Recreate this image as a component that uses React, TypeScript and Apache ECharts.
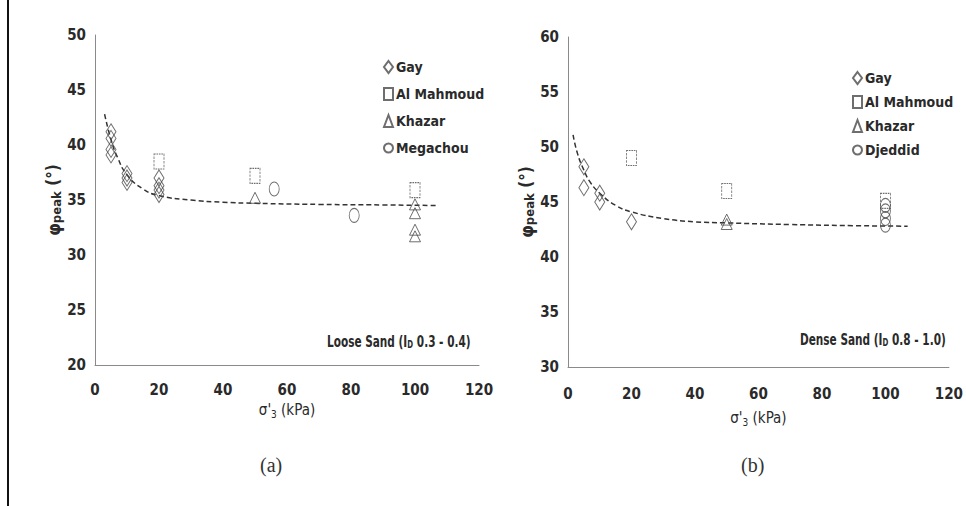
import React, { useEffect, useRef } from "react";
import * as echarts from "echarts";

// ---------- data ----------
const xTicks = [0, 20, 40, 60, 80, 100, 120];

// (a) Loose sand
const gayA: number[][] = [[5, 41.2], [5, 40.6], [5, 39.6], [5, 39.1], [10, 37.4], [10, 37.0], [10, 36.6], [20, 37.0], [20, 36.3], [20, 35.9], [20, 35.5]];
const mahmoudA: number[][] = [[20, 38.5], [50, 37.2], [100, 35.9]];
const khazarA: number[][] = [[50, 35.2], [100, 34.6], [100, 33.8], [100, 32.3], [100, 31.7]];
const megachouA: number[][] = [[56, 36.0], [81, 33.6]];
const fitAX = [3, 5, 7, 10, 15, 20, 30, 40, 50, 70, 90, 107];
const fitAY = [42.8, 40.5, 38.9, 37.3, 36.0, 35.4, 35.0, 34.8, 34.7, 34.6, 34.55, 34.5];

// (b) Dense sand
const gayB: number[][] = [[5, 48.2], [5, 46.3], [10, 45.8], [10, 45.0], [20, 43.2]];
const mahmoudB: number[][] = [[20, 49.0], [50, 46.0], [100, 45.1]];
const khazarB: number[][] = [[50, 43.4], [50, 43.0]];
const djeddidB: number[][] = [[100, 44.7], [100, 44.2], [100, 43.5], [100, 42.9]];
const fitBX = [1.6, 3, 5, 7, 10, 15, 20, 30, 40, 50, 70, 90, 107];
const fitBY = [51.1, 49.4, 47.9, 46.8, 45.8, 44.7, 44.1, 43.5, 43.2, 43.1, 42.95, 42.85, 42.8];

const zip = (xs: number[], ys: number[]) => xs.map((x, i) => [x, ys[i]]);

const FONT = "'DejaVu Sans Condensed', 'Liberation Sans Narrow', 'Liberation Sans', Arial, sans-serif";
const TXT = "#2a2a2a";
const AX = "#8a8a8a";
const MK = "#4a4a4a";
const ELLIPSE = "path://M0,-1 A1,1 0 1,1 0,1 A1,1 0 1,1 0,-1 Z";

export default function App() {
  const ref = useRef<HTMLDivElement>(null);
  useEffect(() => {
    if (!ref.current) return;
    const chart = echarts.init(ref.current, null, { renderer: "svg" });

    const mk = (name: string, data: number[][], symbol: string, size: number[], idx: number, dashed = false) => ({
      type: "scatter",
      name,
      xAxisIndex: idx,
      yAxisIndex: idx,
      data,
      symbol,
      symbolSize: size,
      itemStyle: {
        color: "rgba(255,255,255,0)",
        borderColor: MK,
        borderWidth: 1,
        borderType: dashed ? [2, 1] : "solid",
      },
      z: 3,
    });
    const fit = (xs: number[], ys: number[], idx: number) => ({
      type: "line",
      xAxisIndex: idx,
      yAxisIndex: idx,
      data: zip(xs, ys),
      smooth: true,
      showSymbol: false,
      symbol: "none",
      lineStyle: { color: "#333", width: 1.5, type: [5, 3] },
      silent: true,
      z: 2,
    });

    const axisLabel = { color: TXT, fontFamily: FONT, fontWeight: "bold", fontSize: 15 };
    const xAxis = (idx: number, gap: number, margin: number) => ({
      type: "value",
      gridIndex: idx,
      min: 0,
      max: 120,
      interval: 20,
      axisLine: { show: true, lineStyle: { color: AX, width: 1 } },
      axisTick: { show: false },
      splitLine: { show: false },
      axisLabel: { ...axisLabel, margin },
      name: "σ'{s|3} (kPa)",
      nameLocation: "middle",
      nameGap: gap,
      nameTextStyle: {
        color: TXT,
        fontFamily: FONT,
        fontSize: 15,
        rich: { s: { fontSize: 10, fontFamily: FONT, color: TXT, padding: [9, 0, 0, 0] } },
      },
    });
    const yAxis = (idx: number, min: number, max: number, gap: number) => ({
      type: "value",
      gridIndex: idx,
      min,
      max,
      interval: 5,
      axisLine: { show: true, lineStyle: { color: AX, width: 1 } },
      axisTick: { show: false },
      splitLine: { show: false },
      axisLabel: { ...axisLabel, margin: 9 },
      name: "{p|φ}{s|peak}{n| (°)}",
      nameLocation: "middle",
      nameGap: gap,
      nameRotate: 90,
      nameTextStyle: {
        color: TXT,
        rich: {
          p: { fontSize: 18, fontFamily: FONT, fontWeight: "bold", color: TXT },
          s: { fontSize: 13, fontFamily: FONT, fontWeight: "bold", color: TXT, padding: [7, 0, 0, 0] },
          n: { fontSize: 17, fontFamily: FONT, fontWeight: "bold", color: TXT },
        },
      },
    });
    const legend = (left: number, top: number, gap: number, names: string[]) => ({
      orient: "vertical",
      left,
      top,
      itemGap: gap,
      itemWidth: 9,
      itemHeight: 12,
      data: names,
      textStyle: { color: TXT, fontFamily: FONT, fontWeight: "bold", fontSize: 14, padding: [0, 0, 0, -2], lineHeight: 14 },
      selectedMode: false,
    });
    const annot = (x: number, y: number, text: string) => ({
      type: "text",
      x,
      y,
      scaleX: 0.78,
      style: {
        text,
        fill: TXT,
        fontFamily: FONT,
        fontWeight: "bold",
        fontSize: 15,
        rich: { s: { fontSize: 10, fontFamily: FONT, fontWeight: "bold", fill: TXT, padding: [7, 0, 0, 0] } },
      },
    });

    chart.setOption({
      animation: false,
      backgroundColor: "#ffffff",
      grid: [
        { left: 95, top: 35, width: 384, height: 330 },
        { left: 568, top: 37, width: 381, height: 330 },
      ],
      xAxis: [xAxis(0, 35, 17), xAxis(1, 41, 19)],
      yAxis: [yAxis(0, 20, 50, 28), yAxis(1, 30, 60, 22)],
      legend: [
        legend(378, 55, 13, ["Gay", "Al Mahmoud", "Khazar", "Megachou"]),
        legend(847, 66, 10, ["Gay", "Al Mahmoud", "Khazar", "Djeddid"]),
      ],
      series: [
        fit(fitAX, fitAY, 0),
        fit(fitBX, fitBY, 1),
        mk("Gay", gayA, "diamond", [10, 16], 0),
        mk("Al Mahmoud", mahmoudA, "rect", [10, 15], 0, true),
        mk("Khazar", khazarA, "triangle", [11, 11], 0),
        mk("Megachou", megachouA, ELLIPSE, [10, 14], 0),
        mk("Gay", gayB, "diamond", [10, 16], 1),
        mk("Al Mahmoud", mahmoudB, "rect", [10, 15], 1, true),
        mk("Khazar", khazarB, "triangle", [11, 11], 1),
        mk("Djeddid", djeddidB, ELLIPSE, [10, 14], 1),
      ],
      graphic: [
        { type: "rect", shape: { x: 0, y: 0, width: 2, height: 506 }, left: 7, top: 0, style: { fill: "#111" } },
        annot(327, 333, "Loose Sand (I{s|D} 0.3 - 0.4)"),
        annot(800, 331, "Dense Sand (I{s|D} 0.8 - 1.0)"),
        {
          type: "text",
          left: 260,
          top: 455,
          style: { text: "(a)", fill: "#333", fontFamily: "'Liberation Serif', 'DejaVu Serif', serif", fontSize: 20 },
        },
        {
          type: "text",
          left: 741,
          top: 455,
          style: { text: "(b)", fill: "#333", fontFamily: "'Liberation Serif', 'DejaVu Serif', serif", fontSize: 20 },
        },
      ],
    });
    return () => chart.dispose();
  }, []);
  return <div ref={ref} style={{ width: 966, height: 506, position: "absolute", left: 0, top: 0 }} />;
}
